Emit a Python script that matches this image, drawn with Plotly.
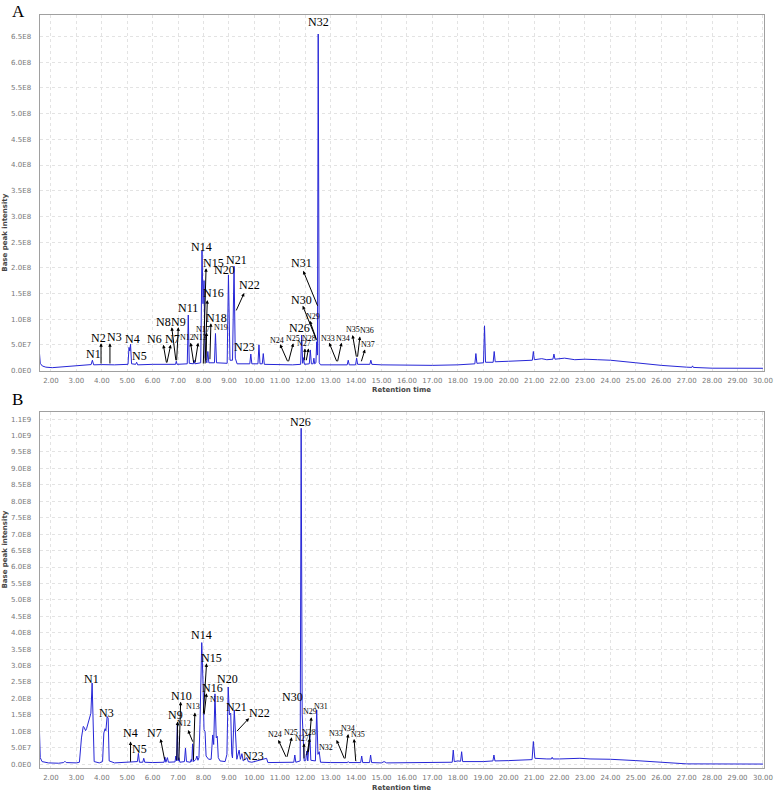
import plotly.graph_objects as go

# ---- chromatogram A (time in min, base peak intensity) ----
a_time = [1.55, 1.58, 1.66, 1.80, 2.05, 2.50, 3.00, 3.40, 3.58, 3.63, 3.68, 4.00, 4.50,
          5.03, 5.07, 5.10, 5.13, 5.17, 5.33, 5.37, 5.41, 6.00, 6.50, 6.90, 6.93, 6.96,
          7.36, 7.40, 7.44, 7.60, 7.63, 7.66, 7.89, 7.94, 7.98, 8.02, 8.06, 8.13, 8.17,
          8.21, 8.43, 8.47, 8.51, 8.93, 8.98, 9.04, 9.14, 9.20, 9.25, 9.32, 9.82, 9.86,
          9.90, 10.14, 10.18, 10.22, 10.31, 10.35, 10.39, 11.00, 11.50, 11.82, 11.86,
          11.90, 11.93, 11.97, 12.16, 12.20, 12.24, 12.31, 12.34, 12.37, 12.42, 12.45,
          12.48, 12.51, 12.55, 12.60, 13.00, 13.65, 13.69, 13.73, 13.98, 14.02, 14.06,
          14.54, 14.58, 14.62, 15.00, 16.00, 17.00, 18.00, 18.67, 18.71, 18.75, 19.01,
          19.05, 19.09, 19.39, 19.43, 19.47, 20.00, 20.50, 20.93, 20.97, 21.01, 21.30,
          21.50, 21.74, 21.78, 21.82, 22.20, 22.60, 23.00, 23.50, 24.00, 25.00, 26.00,
          27.00, 27.20, 27.23, 27.26, 28.00, 30.00]
a_int = [3.3e7, 1.4e7, 8.8e6, 6.5e6, 5.5e6, 7.0e6, 9.0e6, 1.07e7, 1.15e7, 2.0e7, 1.1e7, 1.15e7, 1.1e7,
         1.2e7, 4.5e7, 3.8e7, 5.1e7, 1.3e7, 1.2e7, 1.6e7, 1.1e7, 1.2e7, 1.2e7, 1.2e7, 1.8e7, 1.2e7,
         1.3e7, 1.08e8, 1.4e7, 1.3e7, 2.0e7, 1.3e7, 1.5e7, 2.34e8, 1.3e8, 1.75e8, 2.5e7, 1.5e7, 3.7e7,
         1.5e7, 1.5e7, 7.2e7, 1.5e7, 1.4e7, 1.86e8, 2.0e7, 2.0e7, 2.03e8, 2.4e7, 1.3e7, 1.3e7, 3.2e7,
         1.3e7, 1.3e7, 5.0e7, 1.3e7, 1.3e7, 3.3e7, 1.2e7, 1.1e7, 1.1e7, 1.2e7, 6.9e7,
         1.4e7, 2.5e7, 1.2e7, 1.3e7, 4.0e7, 1.3e7, 1.3e7, 2.4e7, 1.3e7, 1.5e7, 5.6e7,
         3.0e7, 6.55e8, 1.5e7, 1.1e7, 1.1e7, 1.1e7, 2.0e7, 1.1e7, 1.1e7, 2.4e7, 1.2e7,
         1.2e7, 2.0e7, 1.2e7, 1.1e7, 1.0e7, 1.0e7, 1.1e7, 1.3e7, 3.3e7, 1.4e7, 1.5e7,
         8.7e7, 1.6e7, 1.6e7, 3.7e7, 1.7e7, 1.8e7, 1.9e7, 2.0e7, 3.7e7, 2.1e7, 2.3e7,
         2.1e7, 2.2e7, 3.2e7, 2.2e7, 2.4e7, 2.1e7, 2.2e7, 2.1e7, 2.0e7, 1.5e7, 1.0e7,
         6.5e6, 6.0e6, 9.0e6, 6.0e6, 4.5e6, 4.3e6]

# ---- chromatogram B ----
b_time = [1.55, 1.58, 1.65, 1.90, 2.30, 2.50, 2.55, 2.60, 3.00, 3.12, 3.20, 3.27, 3.31, 3.36,
          3.40, 3.47, 3.52, 3.57, 3.62, 3.66, 3.70, 3.90, 4.03, 4.08, 4.13, 4.16, 4.21, 4.25,
          4.29, 4.50, 5.00, 5.40, 5.44, 5.48, 5.61, 5.65, 5.69, 6.00, 6.45, 6.48, 6.52, 6.58,
          6.62, 6.88, 6.91, 6.94, 6.97, 7.00, 7.03, 7.07, 7.25, 7.29, 7.33, 7.48, 7.52, 7.54,
          7.57, 7.61, 7.70, 7.74, 7.78, 7.82, 7.86, 7.93, 7.98, 8.02, 8.06, 8.10, 8.20, 8.30,
          8.36, 8.40, 8.45, 8.50, 8.54, 8.58, 8.65, 8.85, 8.92, 8.97, 9.02, 9.07, 9.11, 9.14,
          9.21, 9.27, 9.31, 9.40, 9.45, 9.51, 9.56, 9.71, 9.76, 9.90, 10.48, 10.53, 11.00,
          11.55, 11.59, 11.63, 11.80, 11.84, 11.88, 11.92, 11.96, 12.02, 12.06, 12.10, 12.18,
          12.22, 12.40, 12.45, 12.50, 12.55, 12.60, 13.00, 13.66, 13.69, 13.72, 14.18, 14.22,
          14.26, 14.53, 14.57, 14.61, 15.00, 15.10, 15.20, 16.00, 17.00, 17.78, 17.82, 17.86,
          18.00, 18.11, 18.15, 18.19, 19.00, 19.38, 19.42, 19.46, 20.00, 20.92, 20.97, 21.03,
          21.50, 21.68, 21.71, 21.74, 22.00, 22.80, 23.20, 24.00, 25.00, 26.00, 27.00, 30.00]
b_int = [9.8e7, 2.0e7, 8.0e6, 4.0e6, 3.0e6, 5.0e6, 9.0e6, 5.0e6, 4.0e6, 6.0e6, 8.0e7, 1.15e8, 1.12e8, 1.02e8,
         1.08e8, 1.30e8, 1.38e8, 1.55e8, 2.47e8, 1.0e8, 8.0e6, 4.0e6, 8.0e6, 9.5e7, 1.08e8, 1.02e8, 1.45e8, 1.40e8,
         1.0e7, 4.0e6, 5.0e6, 8.0e6, 3.3e7, 6.0e6, 6.0e6, 1.8e7, 6.0e6, 5.0e6, 6.0e6, 2.2e7, 6.0e6, 2.0e7,
         6.0e6, 7.0e6, 2.5e7, 1.0e7, 1.25e8, 1.0e7, 2.0e7, 6.0e6, 8.0e6, 4.9e7, 8.0e6, 6.0e6, 1.5e7, 8.0e6,
         6.2e7, 8.0e6, 1.5e7, 2.5e7, 1.2e7, 2.0e7, 1.2e8, 3.7e8, 2.5e8, 1.05e8, 1.0e8, 2.5e7, 1.5e7, 1.5e7,
         8.9e7, 6.0e7, 2.14e8, 8.0e7, 8.5e7, 2.0e7, 1.0e7, 8.0e6, 3.0e7, 2.35e8, 1.5e8, 1.55e8, 3.0e7, 1.9e7,
         1.65e8, 8.4e7, 1.5e7, 4.3e7, 1.5e7, 3.2e7, 1.0e7, 2.0e7, 8.0e6, 6.0e6, 1.8e7, 5.0e6, 5.0e6,
         6.0e6, 2.8e7, 6.0e6, 1.0e7, 1.022e9, 1.5e8, 7.4e7, 1.0e7, 1.2e7, 4.0e7, 1.0e7, 9.0e7,
         1.2e7, 1.0e7, 1.65e8, 3.0e7, 3.8e7, 6.0e6, 5.0e6, 5.0e6, 8.0e6, 5.0e6, 5.0e6, 2.5e7,
         5.0e6, 5.0e6, 2.8e7, 5.0e6, 4.0e6, 8.0e6, 4.0e6, 4.0e6, 5.0e6, 6.0e6, 4.3e7, 8.0e6,
         1.0e7, 9.0e6, 3.8e7, 8.0e6, 8.0e6, 1.0e7, 2.8e7, 1.0e7, 1.1e7, 1.4e7, 6.9e7, 1.8e7,
         1.6e7, 1.6e7, 2.1e7, 1.6e7, 1.6e7, 1.8e7, 1.6e7, 1.5e7, 1.1e7, 6.0e6, 1.0e6, 5.0e5]

# ---- peak labels: name, label position (t, I), small font ----
a_names = ["N1", "N2", "N3", "N4", "N5", "N6", "N7", "N8", "N9", "N11", "N12", "N13", "N14",
           "N15", "N16", "N17", "N18", "N19", "N20", "N21", "N22", "N23", "N24", "N25", "N26",
           "N27", "N28", "N29", "N30", "N31", "N32", "N33", "N34", "N35", "N36", "N37"]
a_lab_t = [3.66, 3.86, 4.49, 5.20, 5.47, 6.09, 6.79, 6.42, 7.03, 7.40, 7.34, 7.86, 7.93,
           8.38, 8.41, 7.99, 8.52, 8.67, 8.82, 9.30, 9.79, 9.63, 10.88, 11.50, 11.79,
           11.95, 12.16, 12.29, 11.86, 11.86, 12.51, 12.90, 13.49, 13.89, 14.44, 14.48]
a_lab_i = [3.2e7, 6.4e7, 6.6e7, 6.1e7, 2.8e7, 6.1e7, 6.1e7, 9.5e7, 9.5e7, 1.21e8, 6.4e7, 6.4e7, 2.41e8,
           2.09e8, 1.51e8, 8.0e7, 1.02e8, 8.4e7, 1.96e8, 2.15e8, 1.66e8, 4.5e7, 5.9e7, 6.3e7, 8.2e7,
           5.2e7, 6.3e7, 1.05e8, 1.37e8, 2.09e8, 6.78e8, 6.3e7, 6.3e7, 8.0e7, 7.7e7, 5.0e7]
a_small = ["N12", "N13", "N17", "N19", "N24", "N25", "N27", "N28", "N29",
           "N33", "N34", "N35", "N36", "N37"]

# pointer lines: head (label end) -> tail (peak end)
a_head_t = [3.97, 4.32, 6.42, 6.71, 6.75, 7.01, 7.49, 7.79, 8.10, 8.15, 8.12, 8.29, 9.60,
            11.01, 11.53, 11.99, 12.13, 12.18, 11.90, 11.92, 12.94, 13.43, 13.86, 14.15, 14.35]
a_head_i = [5.3e7, 5.3e7, 5.0e7, 5.0e7, 8.4e7, 8.4e7, 5.4e7, 5.4e7, 1.99e8, 1.37e8, 7.4e7, 9.2e7, 1.51e8,
            5.1e7, 5.3e7, 4.3e7, 4.3e7, 9.7e7, 1.26e8, 1.94e8, 5.4e7, 5.4e7, 6.9e7, 6.6e7, 4.1e7]
a_tail_t = [3.97, 4.32, 6.55, 6.55, 6.92, 6.94, 7.62, 7.66, 7.99, 8.06, 8.10, 8.25, 9.26,
            11.33, 11.33, 11.96, 12.03, 12.45, 12.47, 12.51, 13.26, 13.26, 14.02, 14.05, 14.19]
a_tail_i = [1.07e7, 1.07e7, 1.26e7, 1.26e7, 1.7e7, 1.7e7, 1.26e7, 1.26e7, 1.07e7, 1.07e7, 1.7e7, 1.9e7, 1.14e8,
            1.5e7, 1.5e7, 1.7e7, 1.7e7, 5.9e7, 5.6e7, 1.23e8, 1.5e7, 1.5e7, 2.4e7, 2.4e7, 1.5e7]

b_names = ["N1", "N3", "N4", "N5", "N7", "N9", "N10", "N12", "N13", "N14", "N15", "N16", "N19",
           "N20", "N21", "N22", "N23", "N24", "N25", "N26", "N30", "N27", "N28", "N29", "N31",
           "N32", "N33", "N34", "N35"]
b_lab_t = [3.60, 4.19, 5.11, 5.47, 6.09, 6.88, 7.14, 7.23, 7.57, 7.93, 8.32, 8.34, 8.54,
           8.93, 9.30, 10.19, 9.96, 10.81, 11.44, 11.82, 11.49, 11.86, 12.16, 12.20, 12.61,
           12.80, 13.21, 13.69, 14.08]
b_lab_i = [2.59e8, 1.55e8, 9.4e7, 4.65e7, 9.4e7, 1.49e8, 2.08e8, 1.23e8, 1.75e8, 3.93e8, 3.24e8, 2.33e8, 1.96e8,
           2.59e8, 1.75e8, 1.55e8, 2.5e7, 8.9e7, 9.6e7, 1.042e9, 2.04e8, 7.7e7, 9.7e7, 1.6e8, 1.75e8,
           5.2e7, 9.2e7, 1.09e8, 8.9e7]
b_small = ["N12", "N13", "N19", "N24", "N25", "N27", "N28", "N29", "N31", "N32", "N33", "N34", "N35"]

b_head_t = [5.13, 6.31, 6.98, 7.10, 7.39, 7.66, 8.12, 8.12, 9.79, 10.94, 11.47, 11.95, 12.18,
            12.24, 13.23, 13.69, 13.92]
b_head_i = [6.9e7, 7.7e7, 1.3e8, 1.9e8, 1.04e8, 1.57e8, 3.07e8, 2.16e8, 1.4e8, 7.4e7, 8.2e7, 6.4e7, 7.9e7,
            1.43e8, 7.4e7, 9.2e7, 7.7e7]
b_tail_t = [5.13, 6.48, 6.95, 7.03, 7.60, 7.60, 7.99, 8.02, 9.26, 11.27, 11.27, 11.95, 12.05,
            12.12, 13.56, 13.56, 13.99]
b_tail_i = [3.0e6, 1.0e7, 8.0e6, 8.0e6, 6.4e7, 8.0e6, 1.5e8, 1.47e8, 9.6e7, 1.8e7, 1.8e7, 1.3e7, 2.3e7,
            3.3e7, 1.3e7, 1.3e7, 5.0e6]

# ---- axes ticks ----
x_ticks = list(range(2, 31))
a_yticks = [i * 5e7 for i in range(14)]
a_yticktext = ["0.0E0", "5.0E7", "1.0E8", "1.5E8", "2.0E8", "2.5E8", "3.0E8", "3.5E8",
               "4.0E8", "4.5E8", "5.0E8", "5.5E8", "6.0E8", "6.5E8"]
b_yticks = [i * 5e7 for i in range(22)]
b_yticktext = ["0.0E0", "5.0E7", "1.0E8", "1.5E8", "2.0E8", "2.5E8", "3.0E8", "3.5E8",
               "4.0E8", "4.5E8", "5.0E8", "5.5E8", "6.0E8", "6.5E8", "7.0E8", "7.5E8",
               "8.0E8", "8.5E8", "9.0E8", "9.5E8", "1.0E9", "1.1E9"]

W, H = 774, 793
line_col = "rgb(38,38,214)"
tick_font = dict(family="DejaVu Sans", size=7, color="#777777")

fig = go.Figure()
fig.add_trace(go.Scatter(x=a_time, y=a_int, mode="lines", xaxis="x", yaxis="y",
                         line=dict(color=line_col, width=1), showlegend=False))
fig.add_trace(go.Scatter(x=b_time, y=b_int, mode="lines", xaxis="x2", yaxis="y2",
                         line=dict(color=line_col, width=1), showlegend=False))

xdom = [39.5 / W, 764 / W]
common_x = dict(range=[1.55, 30.04], tickvals=x_ticks, ticktext=[f"{v:.2f}" for v in x_ticks],
                showgrid=True, gridcolor="#e3e3e3", griddash="dot", gridwidth=1,
                showline=True, mirror=True, linecolor="#a0a0a0", linewidth=1,
                zeroline=False, ticks="", tickfont=tick_font, automargin=False,
                ticklabelstandoff=3, domain=xdom)
common_y = dict(showgrid=True, gridcolor="#e3e3e3", griddash="dot", gridwidth=1,
                showline=True, mirror=True, linecolor="#a0a0a0", linewidth=1,
                zeroline=False, ticks="", tickfont=tick_font, automargin=False,
                ticklabelstandoff=6)

fig.update_layout(
    width=W, height=H, template="none",
    margin=dict(l=0, r=0, t=0, b=0, autoexpand=False),
    paper_bgcolor="white", plot_bgcolor="white",
    xaxis=dict(common_x, anchor="y"),
    yaxis=dict(common_y, anchor="x", domain=[1 - 370.5 / H, 1 - 15 / H],
               range=[0, 6.92e8], tickvals=a_yticks, ticktext=a_yticktext),
    xaxis2=dict(common_x, anchor="y2"),
    yaxis2=dict(common_y, anchor="x2", domain=[1 - 767.5 / H, 1 - 411.7 / H],
                range=[-1.0e7, 1.0725e9], tickvals=b_yticks, ticktext=b_yticktext),
)

anns = []


def add_labels(names, lt, li, small, xr, yr):
    for n, t, v in zip(names, lt, li):
        anns.append(dict(x=t, y=v, xref=xr, yref=yr, text=n, showarrow=False,
                         font=dict(family="Liberation Serif", color="black",
                                   size=8 if n in small else 12)))


def add_pointers(ht, hi, tt, ti, xr, yr):
    for x0, y0, x1, y1 in zip(ht, hi, tt, ti):
        anns.append(dict(x=x0, y=y0, ax=x1, ay=y1, xref=xr, yref=yr, axref=xr, ayref=yr,
                         text="", showarrow=True, arrowhead=2, arrowsize=0.7,
                         arrowwidth=1, arrowcolor="black", standoff=0, startstandoff=0))


add_labels(a_names, a_lab_t, a_lab_i, a_small, "x", "y")
add_pointers(a_head_t, a_head_i, a_tail_t, a_tail_i, "x", "y")
add_labels(b_names, b_lab_t, b_lab_i, b_small, "x2", "y2")
add_pointers(b_head_t, b_head_i, b_tail_t, b_tail_i, "x2", "y2")

# panel letters and axis titles (anchored by their edges)
for letter, top in [("A", 1), ("B", 389)]:
    anns.append(dict(x=11 / W, y=1 - top / H, xref="paper", yref="paper", text=letter,
                     xanchor="left", yanchor="top", borderpad=0, showarrow=False,
                     font=dict(family="Liberation Serif", size=17, color="black")))
for bottom in [395, 793]:
    anns.append(dict(x=(39.5 + 764) / 2 / W, y=1 - bottom / H, xref="paper", yref="paper",
                     text="<b>Retention time</b>", showarrow=False, yanchor="bottom",
                     borderpad=0, font=dict(family="DejaVu Sans", size=7, color="#444444")))
for py in [192.7, 589.6]:
    anns.append(dict(x=0, y=1 - py / H, xref="paper", yref="paper", xanchor="left",
                     text="<b>Base peak intensity</b>", showarrow=False, textangle=-90,
                     borderpad=0, font=dict(family="DejaVu Sans", size=7, color="#444444")))

fig.update_layout(annotations=anns)
fig.write_html("out.html", config={"displayModeBar": False},
               post_script="document.body.style.margin='0px';document.body.style.overflow='hidden';")
